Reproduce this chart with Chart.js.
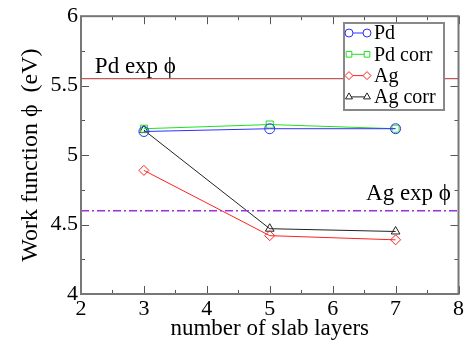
<!DOCTYPE html>
<html>
<head>
<meta charset="utf-8">
<title>Work function vs slab layers</title>
<script src="https://cdn.jsdelivr.net/npm/chart.js@4/dist/chart.umd.min.js"></script>
<style>
  html, body { margin: 0; padding: 0; background: #fff; }
  #wrap { width: 466px; height: 343px; }
</style>
</head>
<body>
<div id="wrap"><canvas id="chartWF"></canvas></div>
<script>
// data
var layers = [3, 5, 7];
var pd = [5.17, 5.19, 5.19];
var pdCorr = [5.19, 5.22, 5.19];
var ag = [4.89, 4.42, 4.39];
var agCorr = [5.18, 4.47, 4.45];
var expRange = [2, 8];
var pdExp = 5.55;
var agExp = 4.60;
var xTicks = [2, 3, 4, 5, 6, 7, 8];
var yTicks = [4, 4.5, 5, 5.5, 6];

var FONT = "'Liberation Serif', 'DejaVu Serif', serif";

function pts(xs, ys) {
  return xs.map(function (x, i) { return {x: x, y: ys[i]}; });
}

var series = [
  {label: "Pd", data: pts(layers, pd), borderColor: "#3030ff", pointStyle: "circle", pointRadius: 5},
  {label: "Pd corr", data: pts(layers, pdCorr), borderColor: "#20e020", pointStyle: "rect", pointRadius: 5},
  {label: "Ag", data: pts(layers, ag), borderColor: "#ff2020", pointStyle: "rectRot", pointRadius: 5},
  {label: "Ag corr", data: pts(layers, agCorr), borderColor: "#222222", pointStyle: "triangle", pointRadius: 5}
];
series.forEach(function (s) {
  s.borderWidth = 1;
  s.pointBorderColor = s.borderColor;
  s.pointBackgroundColor = "rgba(0,0,0,0)";
  s.pointBorderWidth = 1;
  s.showLine = true;
  s.isMain = true;
});

var refLines = [
  {label: "Pd exp", data: pts(expRange, [pdExp, pdExp]), borderColor: "#c05858", borderWidth: 1.2, pointRadius: 0, showLine: true},
  {label: "Ag exp", data: pts(expRange, [agExp, agExp]), borderColor: "#9a30e0", borderWidth: 1.5, borderDash: [8, 3, 2, 3], pointRadius: 0, showLine: true}
];

// inner ticks on all four sides, frame, annotations, legend
var decor = {
  id: "decor",
  afterDraw: function (chart) {
    var c = chart.ctx, a = chart.chartArea;
    var xs = chart.scales.x, ys = chart.scales.y;
    c.save();
    c.strokeStyle = "#555";
    c.lineWidth = 1;
    c.beginPath();
    for (var v = 2; v <= 8.001; v += 0.5) {
      var px = Math.round(xs.getPixelForValue(v)) + 0.5;
      var len = (Math.abs(v - Math.round(v)) < 0.01) ? 8 : 4;
      c.moveTo(px, a.bottom); c.lineTo(px, a.bottom - len);
      c.moveTo(px, a.top); c.lineTo(px, a.top + len);
    }
    for (var w = 4; w <= 6.001; w += 0.25) {
      var py = Math.round(ys.getPixelForValue(w)) + 0.5;
      var l2 = (Math.abs(w * 2 - Math.round(w * 2)) < 0.01) ? 8 : 4;
      c.moveTo(a.left, py); c.lineTo(a.left + l2, py);
      c.moveTo(a.right, py); c.lineTo(a.right - l2, py);
    }
    c.stroke();
    c.strokeStyle = "#777";
    c.lineWidth = 2;
    c.strokeRect(a.left, a.top, a.right - a.left, a.bottom - a.top);

    // reference labels
    c.fillStyle = "#000";
    c.font = "23px " + FONT;
    c.textBaseline = "alphabetic";
    c.textAlign = "left";
    c.fillText("Pd exp \u03D5", xs.getPixelForValue(2.22), ys.getPixelForValue(pdExp) - 6);
    c.textAlign = "right";
    c.fillText("Ag exp \u03D5", xs.getPixelForValue(7.88), ys.getPixelForValue(agExp) - 11);

    // legend box
    var bx = 344, by = 23, bw = 100, bh = 87;
    c.fillStyle = "#fff";
    c.fillRect(bx, by, bw, bh);
    c.strokeStyle = "#888";
    c.lineWidth = 2;
    c.strokeRect(bx, by, bw, bh);
    var rows = chart.data.datasets.filter(function (d) { return d.isMain; });
    rows.forEach(function (d, i) {
      var yy = by + 10 + i * 21.3;
      c.strokeStyle = d.borderColor;
      c.lineWidth = 1;
      c.beginPath(); c.moveTo(bx + 5, yy); c.lineTo(bx + 23, yy); c.stroke();
      [bx + 5, bx + 23].forEach(function (mx) {
        c.fillStyle = "#fff";
        Chart.helpers.drawPoint(c, {pointStyle: d.pointStyle, radius: 4, borderWidth: 1}, mx, yy);
      });
      c.fillStyle = "#000";
      c.textAlign = "left";
      c.textBaseline = "middle";
      c.font = "20px " + FONT;
      c.fillText(d.label, bx + 30, yy + 1);
    });
    c.restore();
  }
};

new Chart(document.getElementById("chartWF"), {
  type: "scatter",
  data: {datasets: refLines.concat(series)},
  options: {
    responsive: true,
    maintainAspectRatio: false,
    animation: false,
    layout: {padding: {top: 16, right: 7, left: 0, bottom: 0}},
    plugins: {legend: {display: false}, tooltip: {enabled: false}},
    scales: {
      x: {
        type: "linear", min: 2, max: 8,
        afterBuildTicks: function (s) { s.ticks = xTicks.map(function (v) { return {value: v}; }); },
        afterFit: function (s) { s.height = 49; },
        grid: {display: false, drawTicks: false},
        border: {display: false},
        ticks: {color: "#000", font: {family: FONT, size: 22}, padding: 2, callback: function (v) { return String(v); }},
        title: {display: true, text: "number of slab layers", color: "#000", font: {family: FONT, size: 23}, padding: {top: -6, bottom: 0}}
      },
      y: {
        type: "linear", min: 4, max: 6,
        afterBuildTicks: function (s) { s.ticks = yTicks.map(function (v) { return {value: v}; }); },
        afterFit: function (s) { s.width = 81; },
        grid: {display: false, drawTicks: false},
        border: {display: false},
        ticks: {color: "#000", font: {family: FONT, size: 22}, padding: 3, callback: function (v) { return String(v); }},
        title: {display: true, text: "Work function \u03D5  (eV)", color: "#000", font: {family: FONT, size: 24}, padding: {top: 16, bottom: 0}}
      }
    }
  },
  plugins: [decor]
});
</script>
</body>
</html>
